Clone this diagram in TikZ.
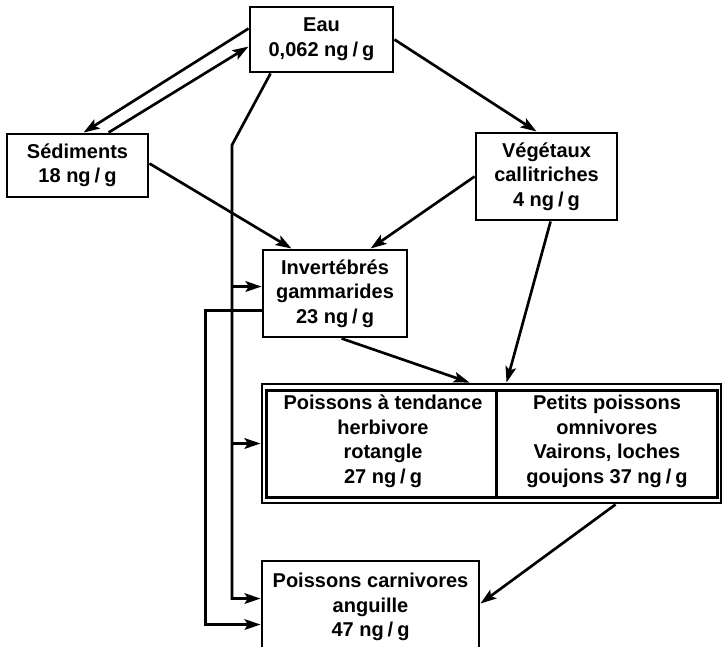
\documentclass[tikz,border=0pt]{standalone}
\usepackage{fontspec}
\newfontfamily\labelfont{Liberation Sans}
\usetikzlibrary{calc,arrows.meta}
% concentration unit, set loosely as in the printed chart
\newcommand{\ngg}{ng\kern0.2em/\kern0.2em g}
\newcommand{\labelstyle}{\labelfont\bfseries\fontsize{15}{18.4}\selectfont}

\begin{document}
\begin{tikzpicture}[x=0.75pt,y=-0.75pt,
  box/.style={draw,line width=2.2pt,align=center,inner sep=0pt,font=\labelstyle},
  cell/.style={align=center,inner sep=0pt,font=\labelstyle},
  flow/.style={line width=2pt,-{Stealth[length=12pt,width=8pt,inset=2.5pt]}}]

\path[use as bounding box] (0,0) rectangle (723,646);
\clip (0,0) rectangle (723,646);

% compartments
\node[box,minimum width=107.25pt,minimum height=48.75pt] (eau) at (321.5,39.5)
  {Eau\\0,062 \ngg};
\node[box,minimum width=105.75pt,minimum height=47.25pt] (sed) at (77.5,165.5)
  {Sédiments\\18 \ngg};
\node[box,minimum width=105.75pt,minimum height=65.25pt] (veg) at (546.5,176.5)
  {Végétaux\\callitriches\\4 \ngg};
\node[box,minimum width=108pt,minimum height=65.25pt] (inv) at (335,293.5)
  {Invertébrés\\gammarides\\23 \ngg};
\node[box,minimum width=344.25pt,minimum height=89.25pt] (big) at (491.5,443.5) {};
\node[box,minimum width=162.75pt,minimum height=69pt] (carn) at (370.5,607)
  {Poissons carnivores\\anguille\\47 \ngg};

% double frame of the fish group, split in two cells
\draw[line width=2.2pt] ($(big.north west)+(6,8)$) rectangle ($(big.south east)+(-5,-7)$);
\draw[line width=2.2pt] ($(big.north west)+(236,8)$) -- ($(big.south west)+(236,-7)$);
\node[cell] (herb) at (383,441.5) {Poissons à tendance\\herbivore\\rotangle\\27 \ngg};
\node[cell] (omni) at (607,441.5) {Petits poissons\\omnivores\\Vairons, loches\\goujons 37 \ngg};

% exchanges water / sediments
\draw[flow] ($(eau.north west)+(0,23)$) -- ($(sed.north west)+(78,0)$);
\draw[flow] ($(sed.north west)+(103,0)$) -- ($(eau.north west)+(0,41)$);
\draw[flow] ($(eau.north east)+(0,34)$) -- ($(veg.north west)+(62,0)$);

% direct uptake from water along the trunk line
\coordinate (bend) at (232,145);
\coordinate (invin) at ($(inv.north west)+(0,38)$);
\coordinate (bigin) at (big.west);
\coordinate (carnin) at ($(carn.north west)+(0,39)$);
\draw[flow] ($(eau.south west)+(22,0)$) -- (bend) |- (carnin);
\draw[flow] (bend |- invin) -- (invin);
\draw[flow] (bend |- bigin) -- (bigin);

% invertebrates eaten by carnivores
\coordinate (invout) at ($(inv.north west)+(0,62)$);
\coordinate (carnin2) at ($(carn.north west)+(0,65)$);
\draw[flow] (invout) -- ++(-56,0) |- (carnin2);

% food chain
\draw[flow] ($(sed.north east)+(0,31)$) -- ($(inv.north west)+(30,0)$);
\draw[flow] ($(veg.north west)+(0,45)$) -- ($(inv.north west)+(109,0)$);
\draw[flow] ($(veg.south west)+(76,0)$) -- ($(big.north west)+(246,0)$);
\draw[flow] ($(inv.south west)+(80,0)$) -- ($(big.north west)+(209,0)$);
\draw[flow] ($(big.south west)+(355,0)$) -- ($(carn.north east)+(0,44)$);
\end{tikzpicture}
\end{document}
